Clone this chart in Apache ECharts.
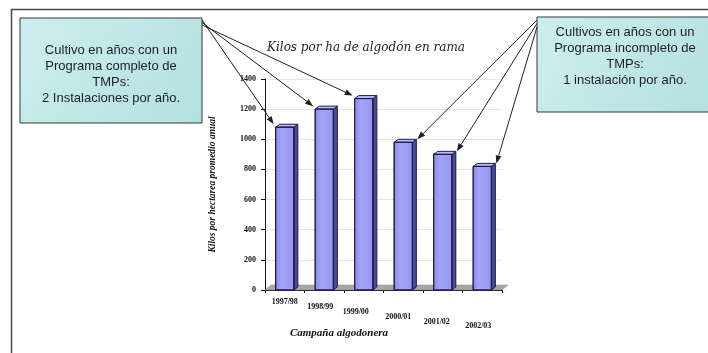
<!DOCTYPE html>
<html>
<head>
<meta charset="utf-8">
<script src="https://cdn.jsdelivr.net/npm/echarts@6/dist/echarts.min.js"></script>
<style>
html,body{margin:0;padding:0;background:#fff;}
#c{width:708px;height:353px;}
</style>
</head>
<body>
<div id="c"></div>
<script>
var categories = ['1997/98', '1998/99', '1999/00', '2000/01', '2001/02', '2002/03'];
var kilos = [1080, 1200, 1270, 980, 900, 820];
var yTicks = [0, 200, 400, 600, 800, 1000, 1200, 1400];
var titleText = 'Kilos por ha de algodón en rama';
var yName = 'Kilos por hectarea promedio anual';
var xName = 'Campaña algodonera';
var leftNote = ['Cultivo en años con un', 'Programa completo de', 'TMPs:', '2 Instalaciones por año.'];
var rightNote = ['Cultivos en años con un', 'Programa incompleto de', 'TMPs:', '1 instalación por año.'];
var leftTargets = [0, 1, 2];
var rightTargets = [3, 4, 5];

var chart = echarts.init(document.getElementById('c'), null, {renderer: 'canvas'});

var labelPads = [[0,0,0,0],[5,8,0,0],[10,16,0,0],[15,10,0,0],[20,12,0,0],[24,8,0,0]];
var rich = {};
labelPads.forEach(function (p, i) {
  rich['r' + i] = {fontFamily: 'Liberation Serif', fontWeight: 'bold', fontSize: 8, color: '#111', padding: p};
});

var GRID = {left: 265, top: 79, right: 206, bottom: 63};

var option = {
  backgroundColor: '#ffffff',
  animation: false,
  grid: GRID,
  xAxis: {
    type: 'category',
    data: categories,
    axisLine: {show: true, lineStyle: {color: '#111', width: 1}},
    axisTick: {show: true, length: 3, lineStyle: {color: '#111'}},
    axisLabel: {
      margin: 8,
      interval: 0,
      formatter: function (val, idx) { return '{r' + idx + '|' + val + '}'; },
      rich: rich
    }
  },
  yAxis: {
    type: 'value',
    min: 0, max: 1400, interval: 200,
    name: yName,
    nameLocation: 'middle',
    nameRotate: 90,
    nameGap: 47,
    nameTextStyle: {fontFamily: 'Liberation Serif', fontStyle: 'italic', fontWeight: 'bold', fontSize: 9.5, color: '#111'},
    axisLine: {show: true, lineStyle: {color: '#111', width: 1}},
    axisTick: {show: true, length: 4, lineStyle: {color: '#111'}},
    axisLabel: {
      margin: 9,
      fontFamily: 'Liberation Serif', fontWeight: 'bold', fontSize: 8, color: '#111',
      formatter: function (v) { return yTicks.indexOf(v) >= 0 ? String(v) : ''; }
    },
    splitLine: {show: true, lineStyle: {color: '#e4e4e4', width: 1}}
  },
  series: [{
    type: 'custom',
    z: 5,
    data: kilos.map(function (v, i) { return [i, v]; }),
    encode: {x: 0, y: 1},
    renderItem: function (params, api) {
      var i = api.value(0), v = api.value(1);
      var top = api.coord([i, v]), base = api.coord([i, 0]);
      var bw = api.size([1, 0])[0] * 0.46;
      var dx = 4, dy = 3;
      var x0 = top[0] - bw / 2, x1 = top[0] + bw / 2;
      var st = '#1c1c4a';
      return {type: 'group', children: [
        {type: 'polygon', shape: {points: [[x1, top[1]], [x1 + dx, top[1] - dy], [x1 + dx, base[1] - dy], [x1, base[1]]]},
          style: {fill: '#4a4a98', stroke: st, lineWidth: 1}},
        {type: 'polygon', shape: {points: [[x0, top[1]], [x0 + dx, top[1] - dy], [x1 + dx, top[1] - dy], [x1, top[1]]]},
          style: {fill: '#bcbcff', stroke: st, lineWidth: 1}},
        {type: 'rect', shape: {x: x0, y: top[1], width: bw, height: base[1] - top[1]},
          style: {fill: new echarts.graphic.LinearGradient(0, 0, 1, 0, [
            {offset: 0, color: '#8a8ae6'}, {offset: 0.35, color: '#a4a4f8'}, {offset: 1, color: '#9696ee'}]),
            stroke: st, lineWidth: 1}}
      ]};
    }
  }]
};
chart.setOption(option);

function noteBox(x, y, w, h, lines, cx, firstY) {
  var els = [{
    type: 'rect', z: 50,
    shape: {x: x, y: y, width: w, height: h},
    style: {fill: new echarts.graphic.LinearGradient(0, 0, 1, 1, [
      {offset: 0, color: '#cdeeee'}, {offset: 1, color: '#b4e0e0'}]), stroke: '#2f3a3a', lineWidth: 1}
  }];
  lines.forEach(function (t, k) {
    els.push({type: 'text', z: 51, style: {
      text: t, x: cx, y: firstY + k * 16.3, align: 'center', verticalAlign: 'middle',
      font: '13px "Liberation Sans", Arial, sans-serif', fill: '#1e1e1e'}});
  });
  return els;
}

function arrow(sx, sy, ex, ey) {
  var ang = Math.atan2(ey - sy, ex - sx);
  var L = 8, W = 3;
  var bx = ex - L * Math.cos(ang), by = ey - L * Math.sin(ang);
  var px = -Math.sin(ang) * W, py = Math.cos(ang) * W;
  return [
    {type: 'line', z: 60, shape: {x1: sx, y1: sy, x2: bx, y2: by}, style: {stroke: '#222', lineWidth: 1}},
    {type: 'polygon', z: 60, shape: {points: [[ex, ey], [bx + px, by + py], [bx - px, by - py]]}, style: {fill: '#222'}}
  ];
}

var els = [];
// frame lines
els.push({type: 'line', z: 1, shape: {x1: 11, y1: 9.5, x2: 708, y2: 9.5}, style: {stroke: '#444', lineWidth: 1.5}});
els.push({type: 'line', z: 1, shape: {x1: 11.5, y1: 9, x2: 11.5, y2: 353}, style: {stroke: '#444', lineWidth: 1.5}});

// floor
var p0 = chart.convertToPixel({gridIndex: 0}, [0, 0]);
var gl = GRID.left, gr = 708 - GRID.right;
els.push({type: 'polygon', z: 1, shape: {points: [[gl, p0[1]], [gr, p0[1]], [gr + 6, p0[1] - 5], [gl + 6, p0[1] - 5]]},
  style: {fill: '#a8a8a8', stroke: '#888', lineWidth: 0.5}});

els = els.concat(noteBox(20, 18, 182, 105, leftNote, 111, 50));
els = els.concat(noteBox(537, 17, 176, 95, rightNote, 625, 32));

var bandW = chart.convertToPixel({gridIndex: 0}, [1, 0])[0] - p0[0];
var half = bandW * 0.46 / 2;
leftTargets.forEach(function (idx, k) {
  var p = chart.convertToPixel({gridIndex: 0}, [idx, kilos[idx]]);
  els = els.concat(arrow(202, 20 + k * 2.5, p[0] - half - 2, p[1] - 3));
});
rightTargets.forEach(function (idx, k) {
  var p = chart.convertToPixel({gridIndex: 0}, [idx, kilos[idx]]);
  els = els.concat(arrow(537, 20 + k * 3.5, p[0] + half + 5, p[1] - 3));
});

// title and x axis name
els.push({type: 'text', z: 40, style: {text: titleText, x: 366, y: 48, align: 'center', verticalAlign: 'middle',
  font: 'italic 12px "DejaVu Serif", serif', fill: '#222'}});
els.push({type: 'text', z: 40, style: {text: xName, x: 339, y: 333, align: 'center', verticalAlign: 'middle',
  font: 'italic bold 11px "Liberation Serif", serif', fill: '#111'}});

chart.setOption({graphic: {elements: els}});
</script>
</body>
</html>
